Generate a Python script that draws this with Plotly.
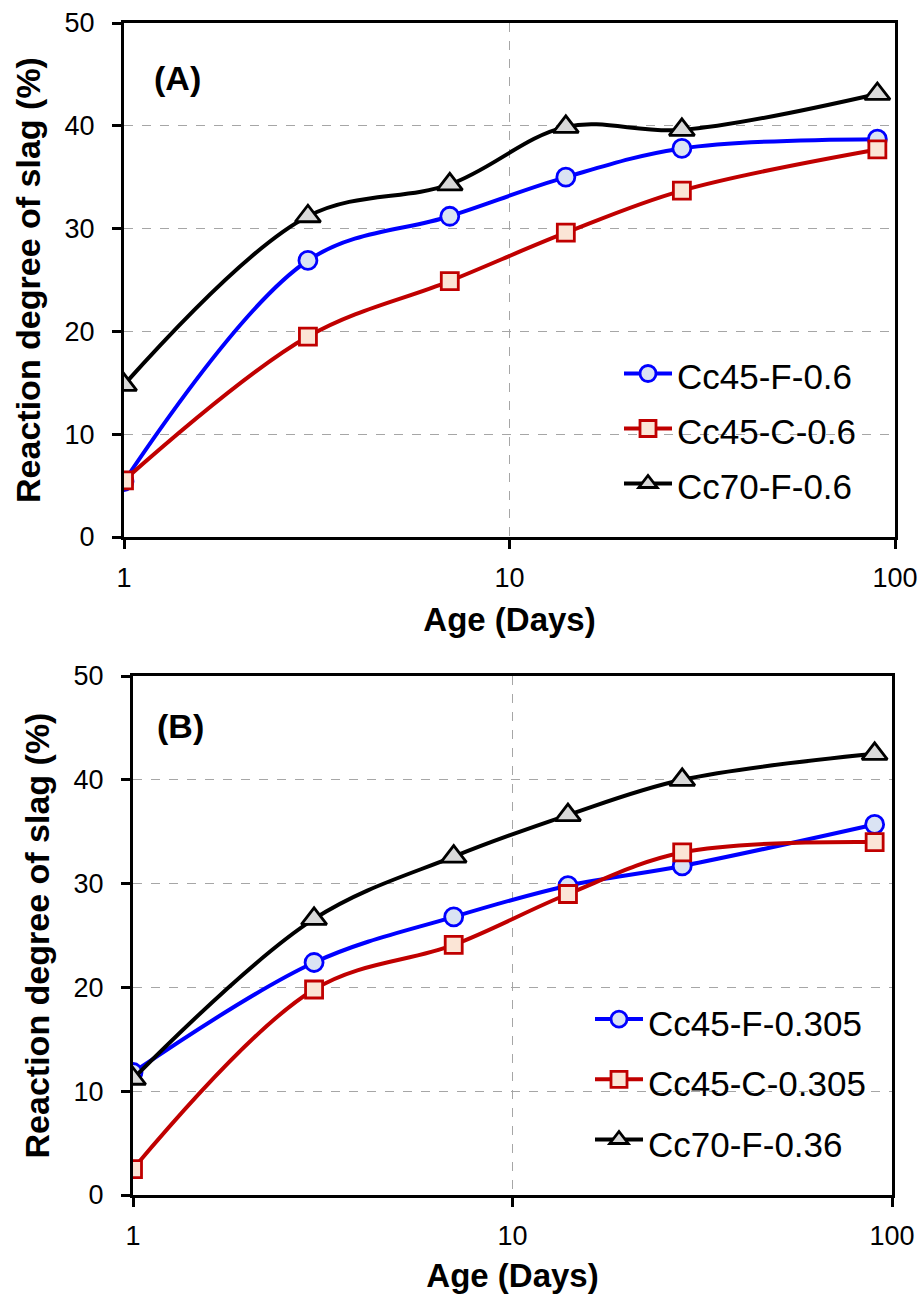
import plotly.graph_objects as go

# ---------------- data ----------------
days = [1, 3, 7, 14, 28, 90]

a_names = ["Cc45-F-0.6", "Cc45-C-0.6", "Cc70-F-0.6"]
a_cc45f = [5.4, 26.9, 31.2, 35.0, 37.8, 38.7]
a_cc45c = [5.5, 19.5, 24.9, 29.6, 33.7, 37.7]
a_cc70f = [14.8, 31.2, 34.3, 39.9, 39.6, 43.1]

b_names = ["Cc45-F-0.305", "Cc45-C-0.305", "Cc70-F-0.36"]
b_cc45f = [11.8, 22.4, 26.8, 29.8, 31.7, 35.7]
b_cc45c = [2.5, 19.8, 24.1, 29.0, 33.0, 34.0]
b_cc70f = [11.2, 26.6, 32.6, 36.6, 40.0, 42.5]

y_ticks = [0, 10, 20, 30, 40, 50]
x_ticks = [1, 10, 100]
panel_labels = ["(A)", "(B)"]
x_title = "Age (Days)"
y_title = "Reaction degree of slag (%)"

# ---------------- styles ----------------
FONT = "Liberation Sans, Arial, sans-serif"
styles = [
    dict(line="#0000FF", fill="#DAE3F3", symbol="circle", size=18),
    dict(line="#C00000", fill="#FBE5D6", symbol="square", size=17),
    dict(line="#000000", fill="#D9D9D9", symbol="triangle-up", size=22),
]

W, H = 922, 1294
fig = go.Figure()

def add_series(xaxis, yaxis, names, series, legend):
    for name, vals, st in zip(names, series, styles):
        fig.add_trace(go.Scatter(
            x=days, y=vals, name='<span style="font-size:35px">' + name + '</span>',
            mode="lines+markers",
            line=dict(color=st["line"], width=4, shape="spline", smoothing=1.0),
            marker=dict(symbol=st["symbol"], size=st["size"], color=st["fill"],
                        line=dict(color=st["line"], width=2.8)),
            xaxis=xaxis, yaxis=yaxis, legend=legend,
        ))

add_series("x", "y", a_names, [a_cc45f, a_cc45c, a_cc70f], "legend")
add_series("x2", "y2", b_names, [b_cc45f, b_cc45c, b_cc70f], "legend2")

def px_x(p):
    return p / W

def px_y(p):
    return 1 - p / H

axis_common = dict(
    showline=True, mirror=True, linecolor="black", linewidth=3,
    ticks="outside", ticklen=9, tickwidth=2.5, tickcolor="black",
    showgrid=True, gridcolor="#A6A6A6", griddash="dash", gridwidth=1.3,
    zeroline=False, automargin=False,
    tickfont=dict(family=FONT, size=27, color="black"),
)

fig.update_layout(
    width=W, height=H,
    margin=dict(l=0, r=0, t=0, b=0),
    paper_bgcolor="white", plot_bgcolor="white",
    font=dict(family=FONT, color="black"),
    xaxis=dict(axis_common, type="log", range=[0, 2], tickvals=x_ticks,
               ticktext=[str(v) for v in x_ticks],
               domain=[px_x(124), px_x(895)], anchor="y",
               ticklabelstandoff=6,
               title=dict(text="<b>" + x_title + "</b>", font=dict(size=33), standoff=16)),
    yaxis=dict(axis_common, range=[0, 50], tickvals=y_ticks,
               domain=[px_y(537), px_y(23)], anchor="x",
               ticklabelstandoff=12,
               title=dict(text="<b>" + y_title + "</b>", font=dict(size=34), standoff=14)),
    xaxis2=dict(axis_common, type="log", range=[0, 2], tickvals=x_ticks,
                ticktext=[str(v) for v in x_ticks],
                domain=[px_x(133), px_x(892)], anchor="y2",
                ticklabelstandoff=6,
                title=dict(text="<b>" + x_title + "</b>", font=dict(size=33), standoff=14)),
    yaxis2=dict(axis_common, range=[0, 50], tickvals=y_ticks,
                domain=[px_y(1195), px_y(676)], anchor="x2",
                ticklabelstandoff=12,
                title=dict(text="<b>" + y_title + "</b>", font=dict(size=34), standoff=14)),
    legend=dict(x=px_x(619), y=px_y(341), xanchor="left", yanchor="top",
                bgcolor="rgba(255,255,255,0)", font=dict(family=FONT, size=40, color="black"),
                itemsizing="trace", itemwidth=48, tracegroupgap=0),
    legend2=dict(x=px_x(590), y=px_y(984), xanchor="left", yanchor="top",
                 bgcolor="rgba(255,255,255,0)", font=dict(family=FONT, size=44, color="black"),
                 itemsizing="trace", itemwidth=48, tracegroupgap=0),
    showlegend=True,
)

fig.add_annotation(text="<b>" + panel_labels[0] + "</b>", x=px_x(152), y=px_y(78),
                   xref="paper", yref="paper", xanchor="left", yanchor="middle",
                   showarrow=False, font=dict(family=FONT, size=34, color="black"))
fig.add_annotation(text="<b>" + panel_labels[1] + "</b>", x=px_x(155), y=px_y(726),
                   xref="paper", yref="paper", xanchor="left", yanchor="middle",
                   showarrow=False, font=dict(family=FONT, size=34, color="black"))

fig.write_html("out.html", config={"displayModeBar": False},
               post_script="document.body.style.margin='0';document.body.style.overflow='hidden';")
